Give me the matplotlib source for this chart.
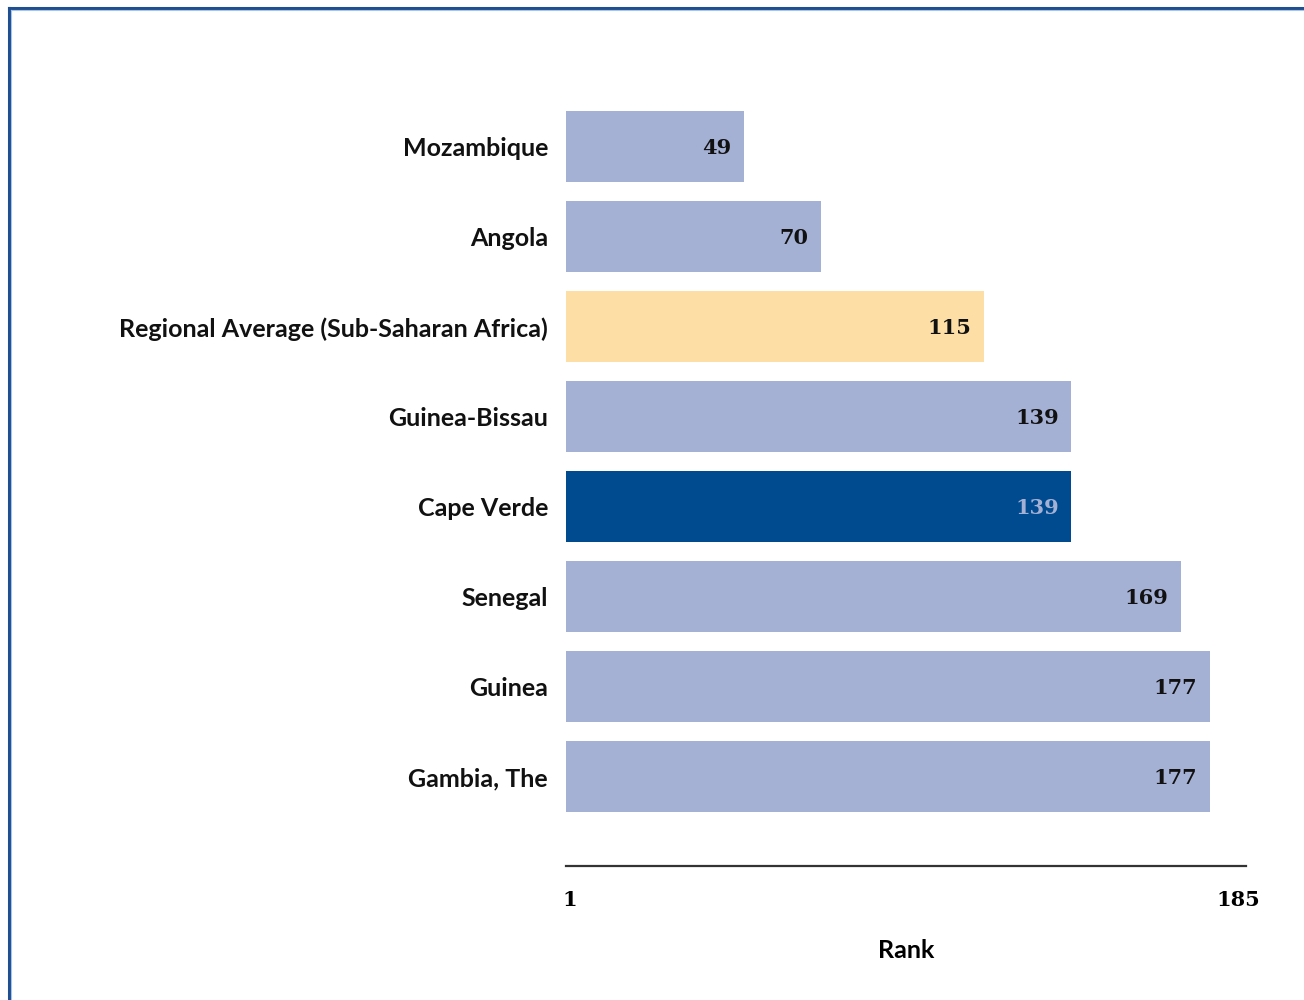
import matplotlib
matplotlib.use('Agg')
import matplotlib.pyplot as plt
from matplotlib.lines import Line2D

countries = ['Mozambique', 'Angola', 'Regional Average (Sub-Saharan Africa)', 'Guinea-Bissau',
             'Cape Verde', 'Senegal', 'Guinea', 'Gambia, The']
ranks = [49, 70, 115, 139, 139, 169, 177, 177]
bar_colors = ['#a5b1d4', '#a5b1d4', '#fddfa6', '#a5b1d4', '#004a8f', '#a5b1d4', '#a5b1d4', '#a5b1d4']
num_colors = ['#111111', '#111111', '#111111', '#111111', '#a5b1d4', '#111111', '#111111', '#111111']
tick_vals = [1, 185]

label_font = 'Lato'
num_font = 'DejaVu Serif'

fig = plt.figure(figsize=(13.04, 10), dpi=100)
ax = fig.add_axes([566/1304, 1-866/1000, 680/1304, (866-100)/1000])

y = list(range(len(countries)))
ax.barh(y, ranks, height=0.79, color=bar_colors, edgecolor='none')

for i, (v, c) in enumerate(zip(ranks, num_colors)):
    ax.annotate(str(v), (v, i), xytext=(-9, -1), textcoords='offset points',
                ha='right', va='center', fontsize=15, fontweight='bold',
                family=num_font, color=c)

ax.set_yticks(y)
ax.set_yticklabels(countries, fontsize=18, fontweight='bold', family=label_font, color='#111111')
ax.set_ylim(7.99, -0.52)
ax.set_xlim(0, 187)
ax.set_xticks(tick_vals)
ax.set_xticklabels([str(t) for t in tick_vals], fontsize=15, fontweight='bold', family=num_font)
ax.tick_params(axis='y', length=0, pad=13)
ax.tick_params(axis='x', length=0, pad=17)
ax.set_xlabel('Rank', fontsize=18, fontweight='bold', family=label_font, labelpad=21)

for s in ['top', 'right', 'left']:
    ax.spines[s].set_visible(False)
ax.spines['bottom'].set_color('#333333')
ax.spines['bottom'].set_linewidth(1.6)

# frame at the figure edge
fig.add_artist(Line2D([9/1304, 9/1304], [0, 1-8/1000], color='#1f4f91', lw=2.2, transform=fig.transFigure))
fig.add_artist(Line2D([9/1304, 1], [1-8/1000, 1-8/1000], color='#1f4f91', lw=2.2, transform=fig.transFigure))
fig.add_artist(Line2D([11/1304, 11/1304], [0, 1-10/1000], color='#a9c4e4', lw=0.8, transform=fig.transFigure))
fig.add_artist(Line2D([11/1304, 1], [1-10/1000, 1-10/1000], color='#a9c4e4', lw=0.8, transform=fig.transFigure))

plt.savefig('out.png', dpi=100)
